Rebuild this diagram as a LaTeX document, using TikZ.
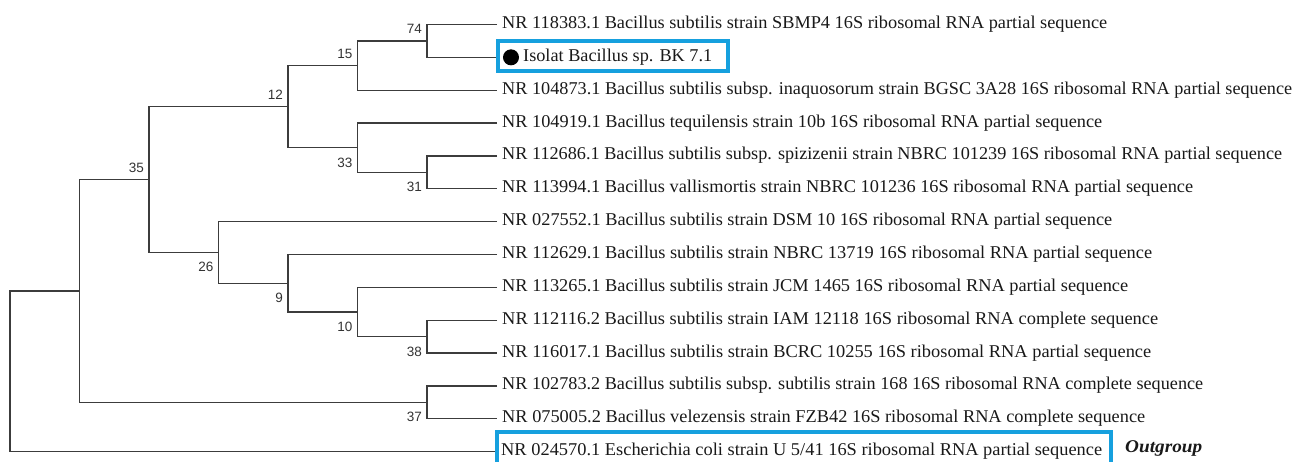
\documentclass[tikz,border=0pt]{standalone}
\usepackage{fontspec}
\setmainfont{Liberation Serif}
\newfontfamily\bsfont{Liberation Sans}
\usepackage{graphicx}
\definecolor{boxblue}{RGB}{22,160,222}
\definecolor{treegray}{RGB}{60,60,60}
\newcommand\fitw[2]{\resizebox{#1pt}{\height}{#2}}
\tikzset{
  br/.style={draw=treegray, line width=1.3pt},
  leaf/.style={anchor=base west, inner sep=0pt, font=\fontsize{18}{20}\selectfont, text=black!90},
  bsabove/.style={anchor=base east, inner sep=0pt, xshift=-5pt, yshift=7pt, font=\bsfont\fontsize{13.5}{15}\selectfont, text=black!80},
  bsbelow/.style={anchor=base east, inner sep=0pt, xshift=-5pt, yshift=-19.5pt, font=\bsfont\fontsize{13.5}{15}\selectfont, text=black!80},
  hlbox/.style={draw=boxblue, line width=4pt},
}
\begin{document}
\begin{tikzpicture}[x=1pt, y=-1pt]
\clip (0,0) rectangle (1295,462);
\useasboundingbox (0,0) rectangle (1295,462);
% leaves
\coordinate (l1) at (497,24.5);
\coordinate (l2) at (497,57.35);
\coordinate (l3) at (497,90.2);
\coordinate (l4) at (497,123.05);
\coordinate (l5) at (497,155.9);
\coordinate (l6) at (497,188.75);
\coordinate (l7) at (497,221.6);
\coordinate (l8) at (497,254.45);
\coordinate (l9) at (497,287.3);
\coordinate (l10) at (497,320.15);
\coordinate (l11) at (497,353.0);
\coordinate (l12) at (497,385.85);
\coordinate (l13) at (497,418.7);
\coordinate (l14) at (497,451.55);
% internal nodes
\coordinate (n74) at (427,40.93);
\coordinate (n15) at (357.5,65.56);
\coordinate (n31) at (427,172.33);
\coordinate (n33) at (357.5,147.69);
\coordinate (n12) at (288,106.63);
\coordinate (n38) at (427,336.58);
\coordinate (n10) at (357.5,311.94);
\coordinate (n9) at (288,283.19);
\coordinate (n26) at (218.5,252.4);
\coordinate (n35) at (149,179.5);
\coordinate (n37) at (427,402.28);
\coordinate (nA) at (79.5,290.9);
\coordinate (root) at (10,371.2);
% branches
\draw[br] (l1) -| (n74) |- (l2);
\draw[br] (n74) -| (n15) |- (l3);
\draw[br] (l5) -| (n31) |- (l6);
\draw[br] (l4) -| (n33) |- (n31);
\draw[br] (n15) -| (n12) |- (n33);
\draw[br] (l10) -| (n38) |- (l11);
\draw[br] (l9) -| (n10) |- (n38);
\draw[br] (l8) -| (n9) |- (n10);
\draw[br] (l7) -| (n26) |- (n9);
\draw[br] (n12) -| (n35) |- (n26);
\draw[br] (l12) -| (n37) |- (l13);
\draw[br] (n35) -| (nA) |- (n37);
\draw[br] (nA) -| (root) |- (l14);
% bootstrap values
\node[bsabove] (b74) at (n74) {74};
\node[bsabove] (b15) at (n15) {15};
\node[bsabove] (b12) at (n12) {12};
\node[bsabove] (b35) at (n35) {35};
\node[bsbelow] (b33) at (n33) {33};
\node[bsbelow] (b31) at (n31) {31};
\node[bsbelow] (b26) at (n26) {26};
\node[bsbelow] (b9) at (n9) {9};
\node[bsbelow] (b10) at (n10) {10};
\node[bsbelow] (b38) at (n38) {38};
\node[bsbelow] (b37) at (n37) {37};
% leaf labels
\node[leaf] (t1) at (502,28.5) {\fitw{605}{NR 118383.1 Bacillus subtilis strain SBMP4 16S ribosomal RNA partial sequence}};
\node[circle, fill=black, minimum size=16pt, inner sep=0pt] (dot) at (511,57.35) {};
\node[leaf] (t2) at (523,61.35) {\fitw{189}{Isolat Bacillus sp. BK 7.1}};
\node[leaf] (t3) at (502,94.2) {\fitw{790}{NR 104873.1 Bacillus subtilis subsp. inaquosorum strain BGSC 3A28 16S ribosomal RNA partial sequence}};
\node[leaf] (t4) at (502,127.05) {\fitw{600}{NR 104919.1 Bacillus tequilensis strain 10b 16S ribosomal RNA partial sequence}};
\node[leaf] (t5) at (502,159.9) {\fitw{780}{NR 112686.1 Bacillus subtilis subsp. spizizenii strain NBRC 101239 16S ribosomal RNA partial sequence}};
\node[leaf] (t6) at (502,192.75) {\fitw{691}{NR 113994.1 Bacillus vallismortis strain NBRC 101236 16S ribosomal RNA partial sequence}};
\node[leaf] (t7) at (502,225.6) {\fitw{610}{NR 027552.1 Bacillus subtilis strain DSM 10 16S ribosomal RNA partial sequence}};
\node[leaf] (t8) at (502,258.45) {\fitw{650}{NR 112629.1 Bacillus subtilis strain NBRC 13719 16S ribosomal RNA partial sequence}};
\node[leaf] (t9) at (502,291.3) {\fitw{626}{NR 113265.1 Bacillus subtilis strain JCM 1465 16S ribosomal RNA partial sequence}};
\node[leaf] (t10) at (502,324.15) {\fitw{656}{NR 112116.2 Bacillus subtilis strain IAM 12118 16S ribosomal RNA complete sequence}};
\node[leaf] (t11) at (502,357.0) {\fitw{649}{NR 116017.1 Bacillus subtilis strain BCRC 10255 16S ribosomal RNA partial sequence}};
\node[leaf] (t12) at (502,389.85) {\fitw{701}{NR 102783.2 Bacillus subtilis subsp. subtilis strain 168 16S ribosomal RNA complete sequence}};
\node[leaf] (t13) at (502,422.7) {\fitw{643}{NR 075005.2 Bacillus velezensis strain FZB42 16S ribosomal RNA complete sequence}};
\node[leaf] (t14) at (501,455.55) {\fitw{601}{NR 024570.1 Escherichia coli strain U 5/41 16S ribosomal RNA partial sequence}};
\node[leaf, font=\fontsize{18}{20}\selectfont\bfseries\itshape] (og) at (1125,452) {\fitw{77}{Outgroup}};
% highlight boxes
\draw[hlbox] (498,41) rectangle (728,71);
\draw[hlbox] (497,432) rectangle (1111,480);
\end{tikzpicture}
\end{document}
